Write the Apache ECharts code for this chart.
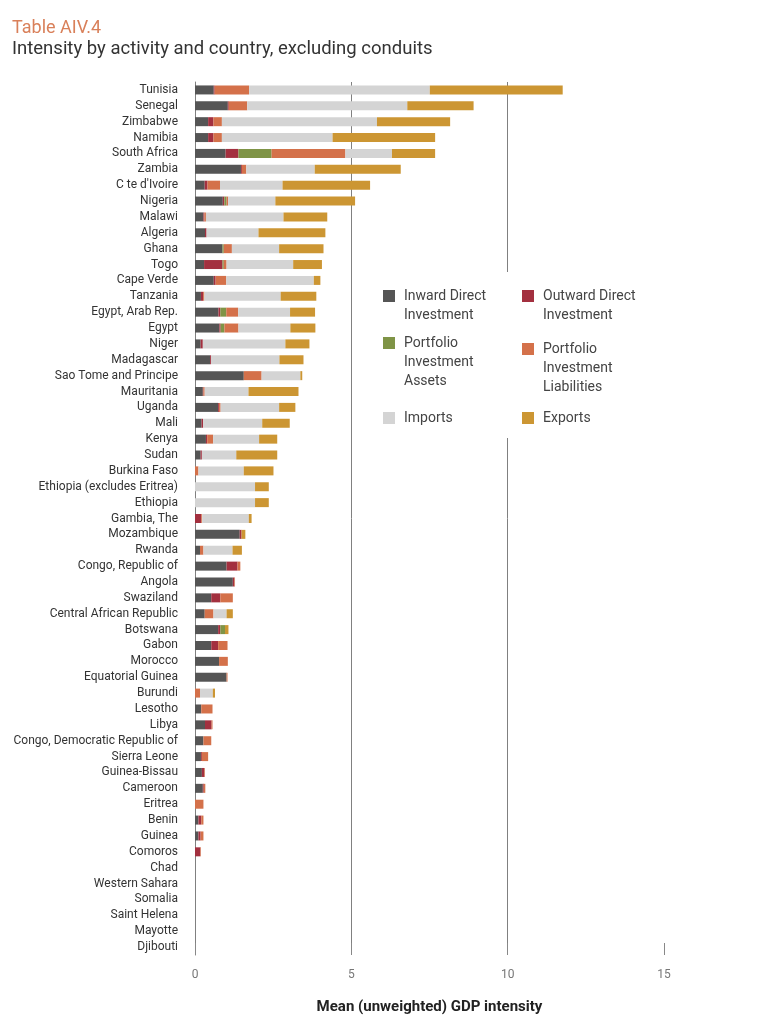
<!DOCTYPE html>
<html>
<head>
<meta charset="utf-8">
<script src="https://cdn.jsdelivr.net/npm/echarts@6/dist/echarts.min.js"></script>
<style>html,body{margin:0;padding:0;background:#fff}#c{width:764px;height:1024px}</style>
</head>
<body>
<div id="c"></div>
<script>
const categories = ["Tunisia","Senegal","Zimbabwe","Namibia","South Africa","Zambia","C te d'Ivoire","Nigeria","Malawi","Algeria","Ghana","Togo","Cape Verde","Tanzania","Egypt, Arab Rep.","Egypt","Niger","Madagascar","Sao Tome and Principe","Mauritania","Uganda","Mali","Kenya","Sudan","Burkina Faso","Ethiopia (excludes Eritrea)","Ethiopia","Gambia, The","Mozambique","Rwanda","Congo, Republic of","Angola","Swaziland","Central African Republic","Botswana","Gabon","Morocco","Equatorial Guinea","Burundi","Lesotho","Libya","Congo, Democratic Republic of","Sierra Leone","Guinea-Bissau","Cameroon","Eritrea","Benin","Guinea","Comoros","Chad","Western Sahara","Somalia","Saint Helena","Mayotte","Djibouti"];

const inwardDI = [0.60,1.05,0.42,0.42,0.98,1.47,0.31,0.89,0.27,0.32,0.88,0.29,0.60,0.19,0.75,0.78,0.18,0.48,1.56,0.25,0.74,0.21,0.35,0.18,0,0,0,0,1.43,0.16,1.01,1.21,0.52,0.31,0.74,0.52,0.77,1.01,0,0.20,0.32,0.27,0.19,0.22,0.25,0,0.11,0.11,0,0,0,0,0,0,0];
const outwardDI = [0.03,0.03,0.17,0.17,0.41,0.03,0.09,0.05,0.03,0.05,0,0.59,0.06,0.07,0.06,0.04,0.07,0.03,0,0.02,0.03,0.05,0.04,0.04,0,0,0,0.20,0.06,0,0.35,0.05,0.29,0,0.07,0.22,0,0,0,0,0.21,0,0.03,0.08,0.03,0,0.09,0.07,0.17,0,0,0,0,0,0];
const portfolioAssets = [0,0,0,0,1.06,0,0,0.07,0,0,0.04,0.04,0,0,0.19,0.12,0,0,0,0,0,0,0,0,0,0,0,0,0,0,0,0,0,0,0.15,0,0,0,0,0,0,0,0,0,0,0,0,0,0,0,0,0,0,0,0];
const portfolioLiab = [1.10,0.59,0.27,0.27,2.36,0.14,0.40,0.05,0.05,0,0.26,0.09,0.34,0.04,0.38,0.45,0,0,0.57,0.04,0.05,0,0.19,0,0.11,0,0,0.03,0,0.11,0.09,0.02,0.40,0.28,0,0.30,0.28,0.03,0.16,0.36,0.03,0.25,0.20,0.02,0.05,0.27,0.07,0.09,0.02,0,0,0,0,0,0];
const imports = [5.78,5.12,4.96,3.54,1.49,2.19,2.00,1.51,2.48,1.66,1.51,2.13,2.80,2.44,1.66,1.66,2.64,2.19,1.24,1.40,1.87,1.89,1.47,1.10,1.45,1.92,1.92,1.49,0,0.93,0,0,0,0.42,0,0,0,0,0.41,0,0,0,0,0,0,0,0,0,0,0,0,0,0,0,0];
const exportsV = [4.25,2.12,2.34,3.28,1.38,2.75,2.80,2.55,1.40,2.14,1.42,0.92,0.21,1.14,0.80,0.80,0.77,0.77,0.06,1.60,0.52,0.88,0.58,1.31,0.95,0.44,0.44,0.09,0.12,0.30,0,0,0,0.20,0.11,0,0,0,0.07,0,0,0,0,0,0,0,0,0,0,0,0,0,0,0,0];
const xTicks = [0,5,10,15];

const seriesDefs = [
  {name:'Inward Direct Investment', label:'Inward Direct\nInvestment', data:inwardDI, color:'#555555'},
  {name:'Outward Direct Investment', label:'Outward Direct\nInvestment', data:outwardDI, color:'#a3303f'},
  {name:'Portfolio Investment Assets', label:'Portfolio\nInvestment\nAssets', data:portfolioAssets, color:'#7f9446'},
  {name:'Portfolio Investment Liabilities', label:'Portfolio\nInvestment\nLiabilities', data:portfolioLiab, color:'#d4714a'},
  {name:'Imports', label:'Imports', data:imports, color:'#d4d4d4'},
  {name:'Exports', label:'Exports', data:exportsV, color:'#cc9633'}
];

const FONT = 'Roboto';
const LH = 19;
const legendPos = [
  {left:383, cy:296},
  {left:522, cy:296},
  {left:383, cy:343},
  {left:522, cy:349},
  {left:383, cy:418},
  {left:522, cy:418}
];
const legends = seriesDefs.map((s, i) => {
  const n = s.label.split('\n').length;
  const txt = '\n'.repeat(n - 1) + s.label;
  return {
    data: [s.name],
    left: legendPos[i].left,
    top: legendPos[i].cy - (LH * (2 * n - 1)) / 2,
    padding: 0,
    itemWidth: 12,
    itemHeight: 12,
    selectedMode: false,
    icon: 'rect',
    formatter: () => txt,
    textStyle: {fontFamily: FONT, fontSize: 14, color: '#444', lineHeight: LH, padding: [0, 0, 0, 4]}
  };
});

const chart = echarts.init(document.getElementById('c'), null, {renderer: 'canvas'});
chart.setOption({
  animation: false,
  backgroundColor: '#fff',
  title: {
    text: 'Table AIV.4',
    subtext: 'Intensity by activity and country, excluding conduits',
    left: 7, top: 14, itemGap: 3,
    textStyle: {fontFamily: FONT, fontSize: 18, fontWeight: 'normal', color: '#d9805a'},
    subtextStyle: {fontFamily: FONT, fontSize: 18.5, color: '#333'}
  },
  legend: legends,
  graphic: [{type: 'rect', z: 3, shape: {x: 370, y: 272, width: 295, height: 166}, style: {fill: '#fff'}}],
  grid: {left: 195, right: 100, top: 82, bottom: 69, containLabel: false},
  xAxis: {
    type: 'value', min: xTicks[0], max: xTicks[xTicks.length - 1], interval: 5,
    axisLine: {show: false},
    axisTick: {show: true, inside: true, length: 12, lineStyle: {color: '#888'}},
    axisLabel: {fontFamily: FONT, fontSize: 12, color: '#777', margin: 14},
    splitLine: {show: true, lineStyle: {color: ['#808080', '#808080', '#808080', 'rgba(0,0,0,0)'], width: 1}},
    name: 'Mean (unweighted) GDP intensity',
    nameLocation: 'middle', nameGap: 45,
    nameTextStyle: {fontFamily: FONT, fontSize: 15, fontWeight: 'bold', color: '#222'}
  },
  yAxis: {
    type: 'category', data: categories, inverse: true,
    axisLine: {show: true, lineStyle: {color: '#808080'}},
    axisTick: {show: false},
    axisLabel: {fontFamily: FONT, fontSize: 12, color: '#333', margin: 17, interval: 0}
  },
  series: seriesDefs.map(s => ({
    name: s.name, type: 'bar', stack: 'total', data: s.data, barWidth: 9,
    itemStyle: {color: s.color}
  }))
});
</script>
</body>
</html>
